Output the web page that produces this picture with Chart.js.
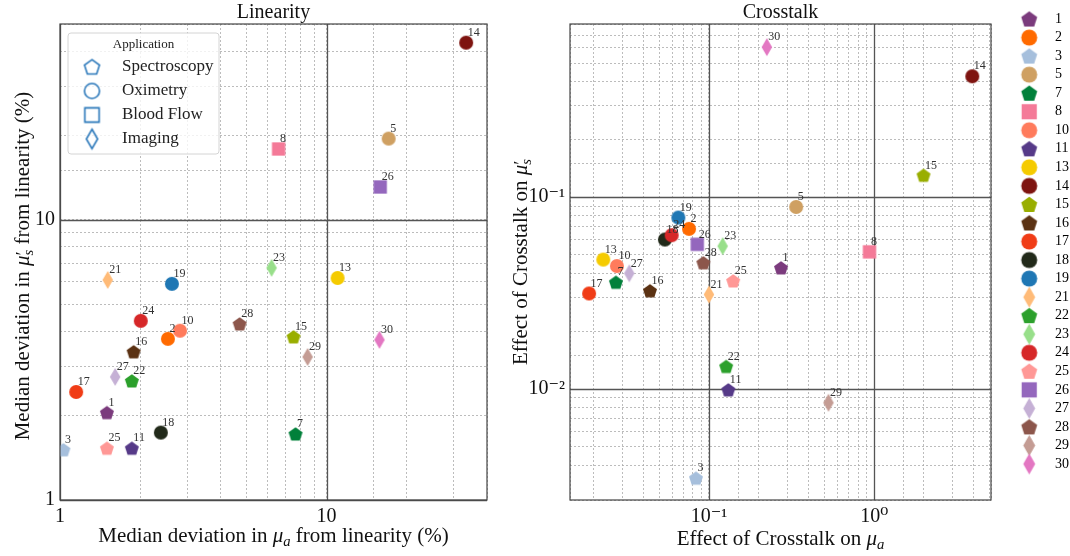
<!DOCTYPE html>
<html>
<head>
<meta charset="utf-8">
<script src="https://cdn.jsdelivr.net/npm/chart.js@4.4.1/dist/chart.umd.min.js"></script>
<style>
html, body { margin: 0; padding: 0; background: #fff; }
#wrap { position: relative; width: 1070px; height: 556px; }
#box1 { position: absolute; left: 0; top: 0; width: 490px; height: 556px; }
#box2 { position: absolute; left: 490px; top: 0; width: 580px; height: 556px; }
</style>
</head>
<body>
<div id="wrap">
	<div id="box1"><canvas id="c1" width="490" height="556"></canvas></div>
	<div id="box2"><canvas id="c2" width="580" height="556"></canvas></div>
</div>
<script>
var SERIF = "'Liberation Serif', 'DejaVu Serif', serif";

// study numbers and their application (index into applications)
var studies = [1, 2, 3, 5, 7, 8, 10, 11, 13, 14, 15, 16, 17, 18, 19, 21, 22, 23, 24, 25, 26, 27, 28, 29, 30];
var studyApp = [0, 1, 0, 1, 0, 2, 1, 0, 1, 1, 0, 0, 1, 1, 1, 3, 0, 3, 1, 0, 2, 3, 0, 3, 3];
var studyColors = ['#7b3b7d', '#ff6a00', '#a6bfdc', '#cfa062', '#00803a', '#f47a98', '#ff7b5c', '#563a88',
	'#f5cb00', '#7e1410', '#99ae00', '#5b3213', '#f03c16', '#222a1a', '#1f77b4', '#ffbb78', '#2ca02c',
	'#98df8a', '#d62728', '#ff9896', '#9467bd', '#c5b0d5', '#8c564b', '#c49c94', '#e377c2'];

var applications = ['Spectroscopy', 'Oximetry', 'Blood Flow', 'Imaging'];
var appShapes = ['pentagon', 'circle', 'square', 'diamond'];

// Linearity: median deviation (%) in mu_a and mu_s'
var linMuA = [1.50, 2.54, 1.03, 17.1, 7.65, 6.61, 2.82, 1.86, 11.0, 33.4, 7.52, 1.89, 1.15, 2.39, 2.63,
	1.51, 1.86, 6.22, 2.01, 1.50, 15.9, 1.61, 4.72, 8.49, 15.8];
var linMuS = [2.05, 3.76, 1.51, 19.5, 1.72, 17.9, 4.02, 1.53, 6.2, 42.9, 3.82, 3.38, 2.43, 1.74, 5.91,
	6.1, 2.66, 6.74, 4.36, 1.53, 13.1, 2.75, 4.25, 3.24, 3.73];

// Crosstalk: effect on mu_a and mu_s'
var xtMuA = [0.273, 0.0757, 0.0834, 0.337, 0.0273, 0.937, 0.0277, 0.131, 0.0229, 3.93, 1.99, 0.0439,
	0.0188, 0.0541, 0.0652, 0.100, 0.127, 0.121, 0.0594, 0.140, 0.0849, 0.0329, 0.0924, 0.529, 0.224];
var xtMuS = [0.0428, 0.0684, 0.00343, 0.089, 0.036, 0.0519, 0.0438, 0.0099, 0.0473, 0.427, 0.130, 0.0325,
	0.0315, 0.0602, 0.0784, 0.0311, 0.0131, 0.0556, 0.0634, 0.0366, 0.0568, 0.0401, 0.0455, 0.00849, 0.606];

var linTickVals = [1, 10];
var linTickText = ['1', '10'];
var xtTickVals = [0.01, 0.1, 1];
var xtTickText = ['10\u207B\u00B2', '10\u207B\u00B9', '10\u2070'];

function tickLabel(vals, texts){
	return function(v){
		for(var i = 0; i < vals.length; i++){
			if(Math.abs(v - vals[i]) < vals[i] * 1e-6){
				return texts[i];
			}
		}
		return '';
	};
}

function isDecade(v){
	var l = Math.log10(v);
	return Math.abs(l - Math.round(l)) < 1e-6;
}

function makeMarker(shape, color, s, outline){
	var w = Math.ceil(s * 1.4) + 4;
	var c = document.createElement('canvas');
	c.width = w; c.height = w;
	var g = c.getContext('2d');
	var m = w / 2, r = s / 2;
	g.beginPath();
	if(shape == 'circle'){
		g.arc(m, m, r, 0, Math.PI * 2);
	}
	else if(shape == 'pentagon'){
		for(var k = 0; k < 5; k++){
			var a = -Math.PI / 2 + k * 2 * Math.PI / 5;
			g.lineTo(m + r * 1.05 * Math.cos(a), m + r * 1.05 * Math.sin(a) + r * 0.08);
		}
		g.closePath();
	}
	else if(shape == 'square'){
		g.rect(m - r * 0.95, m - r * 0.95, r * 1.9, r * 1.9);
	}
	else {
		g.moveTo(m, m - r * 1.3);
		g.lineTo(m + r * 0.75, m);
		g.lineTo(m, m + r * 1.3);
		g.lineTo(m - r * 0.75, m);
		g.closePath();
	}
	if(outline){
		g.strokeStyle = color;
		g.lineWidth = 1.6;
		g.stroke();
	}
	else {
		g.fillStyle = color;
		g.fill();
	}
	return c;
}

function buildSets(xs, ys){
	return studies.map(function(n, i){
		return {
			label: String(n),
			data: [{x: xs[i], y: ys[i]}],
			pointStyle: makeMarker(appShapes[studyApp[i]], studyColors[i], 14, false),
			pointRadius: 7,
			pointHoverRadius: 7,
			order: -i
		};
	});
}

// rich text for axis titles (italic mu with sub/superscripts)
function layoutRich(ctx, segs, size){
	var x = 0, out = [], stackStart = null, stackW = 0;
	segs.forEach(function(s){
		var sz = size * (s.sc || 1);
		ctx.font = (s.it ? 'italic ' : '') + sz + 'px ' + SERIF;
		var w = ctx.measureText(s.t).width;
		var item = {s: s, font: ctx.font, dy: (s.dy || 0) * size};
		if(stackStart !== null){
			item.x = stackStart;
			x = stackStart + Math.max(stackW, w);
			stackStart = null;
		}
		else {
			item.x = x;
			if(s.stack){
				stackStart = x;
				stackW = w;
			}
			x += w;
		}
		out.push(item);
	});
	return {items: out, width: x};
}

function drawRich(ctx, segs, size, cx, baseY){
	var lay = layoutRich(ctx, segs, size);
	var x0 = cx - lay.width / 2;
	ctx.textAlign = 'left';
	ctx.textBaseline = 'alphabetic';
	lay.items.forEach(function(it){
		ctx.font = it.font;
		ctx.fillText(it.s.t, x0 + it.x, baseY + it.dy);
	});
}

var muA = [{t: '\u03BC', it: 1}, {t: 'a', it: 1, sc: 0.7, dy: 0.2}];
var muS = [{t: '\u03BC', it: 1}, {t: '\u2032', sc: 0.9, dy: -0.02, stack: 1}, {t: 's', it: 1, sc: 0.7, dy: 0.2}];

var axisTitlePlugin = {
	id: 'axisTitles',
	afterDraw: function(chart){
		var o = chart.options.plugins.axisTitles;
		var a = chart.chartArea, ctx = chart.ctx;
		ctx.save();
		ctx.fillStyle = '#111';
		drawRich(ctx, o.x, 21, (a.left + a.right) / 2, a.bottom + o.xBase);
		ctx.translate(o.yBase, (a.top + a.bottom) / 2 + o.yShift);
		ctx.rotate(-Math.PI / 2);
		drawRich(ctx, o.y, 21, 0, 0);
		ctx.restore();
	}
};

var gridPlugin = {
	id: 'decadeGrid',
	beforeDatasetsDraw: function(chart){
		var a = chart.chartArea, ctx = chart.ctx;
		ctx.save();
		ctx.strokeStyle = '#555';
		ctx.lineWidth = 1.3;
		chart.scales.x.ticks.forEach(function(t){
			if(isDecade(t.value)){
				var px = Math.round(chart.scales.x.getPixelForValue(t.value)) + 0.5;
				ctx.beginPath(); ctx.moveTo(px, a.top); ctx.lineTo(px, a.bottom); ctx.stroke();
			}
		});
		chart.scales.y.ticks.forEach(function(t){
			if(isDecade(t.value)){
				var py = Math.round(chart.scales.y.getPixelForValue(t.value)) + 0.5;
				ctx.beginPath(); ctx.moveTo(a.left, py); ctx.lineTo(a.right, py); ctx.stroke();
			}
		});
		ctx.restore();
	},
	afterDatasetsDraw: function(chart){
		var a = chart.chartArea, ctx = chart.ctx;
		ctx.save();
		// point numbers
		ctx.fillStyle = '#333';
		ctx.font = '12px ' + SERIF;
		ctx.textAlign = 'left';
		ctx.textBaseline = 'middle';
		chart.data.datasets.forEach(function(ds, i){
			var el = chart.getDatasetMeta(i).data[0];
			if(el){
				ctx.fillText(ds.label, el.x + 1.5, el.y - 10);
			}
		});
		// frame
		ctx.strokeStyle = '#444';
		ctx.lineWidth = 1.2;
		ctx.strokeRect(a.left, a.top, a.right - a.left, a.bottom - a.top);
		ctx.restore();
	}
};

var appMarkers = appShapes.map(function(s){ return makeMarker(s, '#2b78ba', 15, true); });

var appLegendPlugin = {
	id: 'appLegend',
	afterDraw: function(chart){
		var ctx = chart.ctx, a = chart.chartArea;
		var bx = a.left + 8, by = a.top + 9, bw = 151, bh = 121;
		ctx.save();
		ctx.beginPath();
		if(ctx.roundRect){
			ctx.roundRect(bx, by, bw, bh, 3);
		}
		else {
			ctx.rect(bx, by, bw, bh);
		}
		ctx.fillStyle = 'rgba(255,255,255,0.8)';
		ctx.fill();
		ctx.strokeStyle = '#d4d4d4';
		ctx.lineWidth = 1;
		ctx.stroke();
		ctx.fillStyle = '#222';
		ctx.font = '13px ' + SERIF;
		ctx.textAlign = 'center';
		ctx.textBaseline = 'middle';
		ctx.fillText('Application', bx + bw / 2, by + 12);
		applications.forEach(function(name, k){
			var cy = by + 34 + 24 * k;
			var m = appMarkers[k];
			ctx.drawImage(m, bx + 24 - m.width / 2, cy - m.height / 2);
			ctx.font = '17px ' + SERIF;
			ctx.textAlign = 'left';
			ctx.fillText(name, bx + 54, cy);
		});
		ctx.restore();
	}
};

function logAxis(min, max, vals, texts, fit){
	return {
		type: 'logarithmic',
		min: min,
		max: max,
		afterFit: fit,
		grid: {color: '#ababab', lineWidth: 0.8, drawTicks: false},
		border: {display: false, dash: [2, 2]},
		ticks: {
			autoSkip: false,
			maxRotation: 0,
			padding: 5,
			color: '#111',
			font: {family: SERIF, size: 20},
			callback: tickLabel(vals, texts)
		}
	};
}

function fitX(s){
	s.height = 56;
	s.paddingLeft = 0;
	s.paddingRight = 0;
}

function fitY(w){
	return function(s){
		s.width = w;
		s.paddingTop = 0;
		s.paddingBottom = 0;
	};
}

Chart.defaults.font.family = SERIF;

var chart1 = new Chart(document.getElementById('c1'), {
	type: 'scatter',
	data: {datasets: buildSets(linMuA, linMuS)},
	options: {
		responsive: false,
		animation: false,
		events: [],
		devicePixelRatio: 1,
		layout: {autoPadding: false, padding: {left: 0, right: 3, top: 0, bottom: 0}},
		scales: {
			x: logAxis(1, 40, linTickVals, linTickText, fitX),
			y: logAxis(1, 50, linTickVals, linTickText, fitY(60))
		},
		plugins: {
			legend: {display: false},
			tooltip: {enabled: false},
			title: {
				display: true, text: 'Linearity', fullSize: false, color: '#111',
				font: {family: SERIF, size: 20, weight: 'normal', lineHeight: '21px'},
				padding: {top: 2.5, bottom: 0.5}
			},
			axisTitles: {
				x: [{t: 'Median deviation in '}].concat(muA, [{t: ' from linearity (%)'}]),
				y: [{t: 'Median deviation in '}].concat(muS, [{t: ' from linearity (%)'}]),
				xBase: 41.5, yBase: 29, yShift: 4
			}
		}
	},
	plugins: [gridPlugin, axisTitlePlugin, appLegendPlugin]
});

var legendMarkers = studies.map(function(n, i){
	return makeMarker(appShapes[studyApp[i]], studyColors[i], 16, false);
});

var chart2 = new Chart(document.getElementById('c2'), {
	type: 'scatter',
	data: {datasets: buildSets(xtMuA, xtMuS)},
	options: {
		responsive: false,
		animation: false,
		events: [],
		devicePixelRatio: 1,
		layout: {autoPadding: false, padding: {left: 0, right: 0, top: 7.5, bottom: 0}},
		scales: {
			x: logAxis(0.0144, 5.1, xtTickVals, xtTickText, fitX),
			y: logAxis(0.00264, 0.8, xtTickVals, xtTickText, fitY(80)),
			yR: {
				type: 'linear', position: 'right', display: true,
				grid: {display: false}, border: {display: false}, ticks: {display: false},
				afterFit: function(s){ s.width = 15; s.paddingTop = 0; s.paddingBottom = 0; }
			}
		},
		plugins: {
			legend: {
				display: true,
				position: 'right',
				align: 'start',
				maxWidth: 64,
				labels: {
					usePointStyle: true,
					pointStyleWidth: 37.4,
					boxHeight: 14,
					padding: 4.54,
					color: '#222',
					font: {family: SERIF, size: 14},
					generateLabels: function(ch){
						return studies.map(function(n, i){
							return {
								text: String(n),
								pointStyle: legendMarkers[i],
								fillStyle: studyColors[i],
								strokeStyle: studyColors[i],
								lineWidth: 0,
								hidden: false,
								datasetIndex: i
							};
						});
					}
				}
			},
			tooltip: {enabled: false},
			title: {
				display: true, text: 'Crosstalk', fullSize: false, color: '#111',
				font: {family: SERIF, size: 20, weight: 'normal', lineHeight: '6px'},
				padding: {top: 2.5, bottom: 8}
			},
			axisTitles: {
				x: [{t: 'Effect of Crosstalk on '}].concat(muA),
				y: [{t: 'Effect of Crosstalk on '}].concat(muS),
				xBase: 45, yBase: 37, yShift: 0
			}
		}
	},
	plugins: [gridPlugin, axisTitlePlugin]
});
</script>
</body>
</html>
